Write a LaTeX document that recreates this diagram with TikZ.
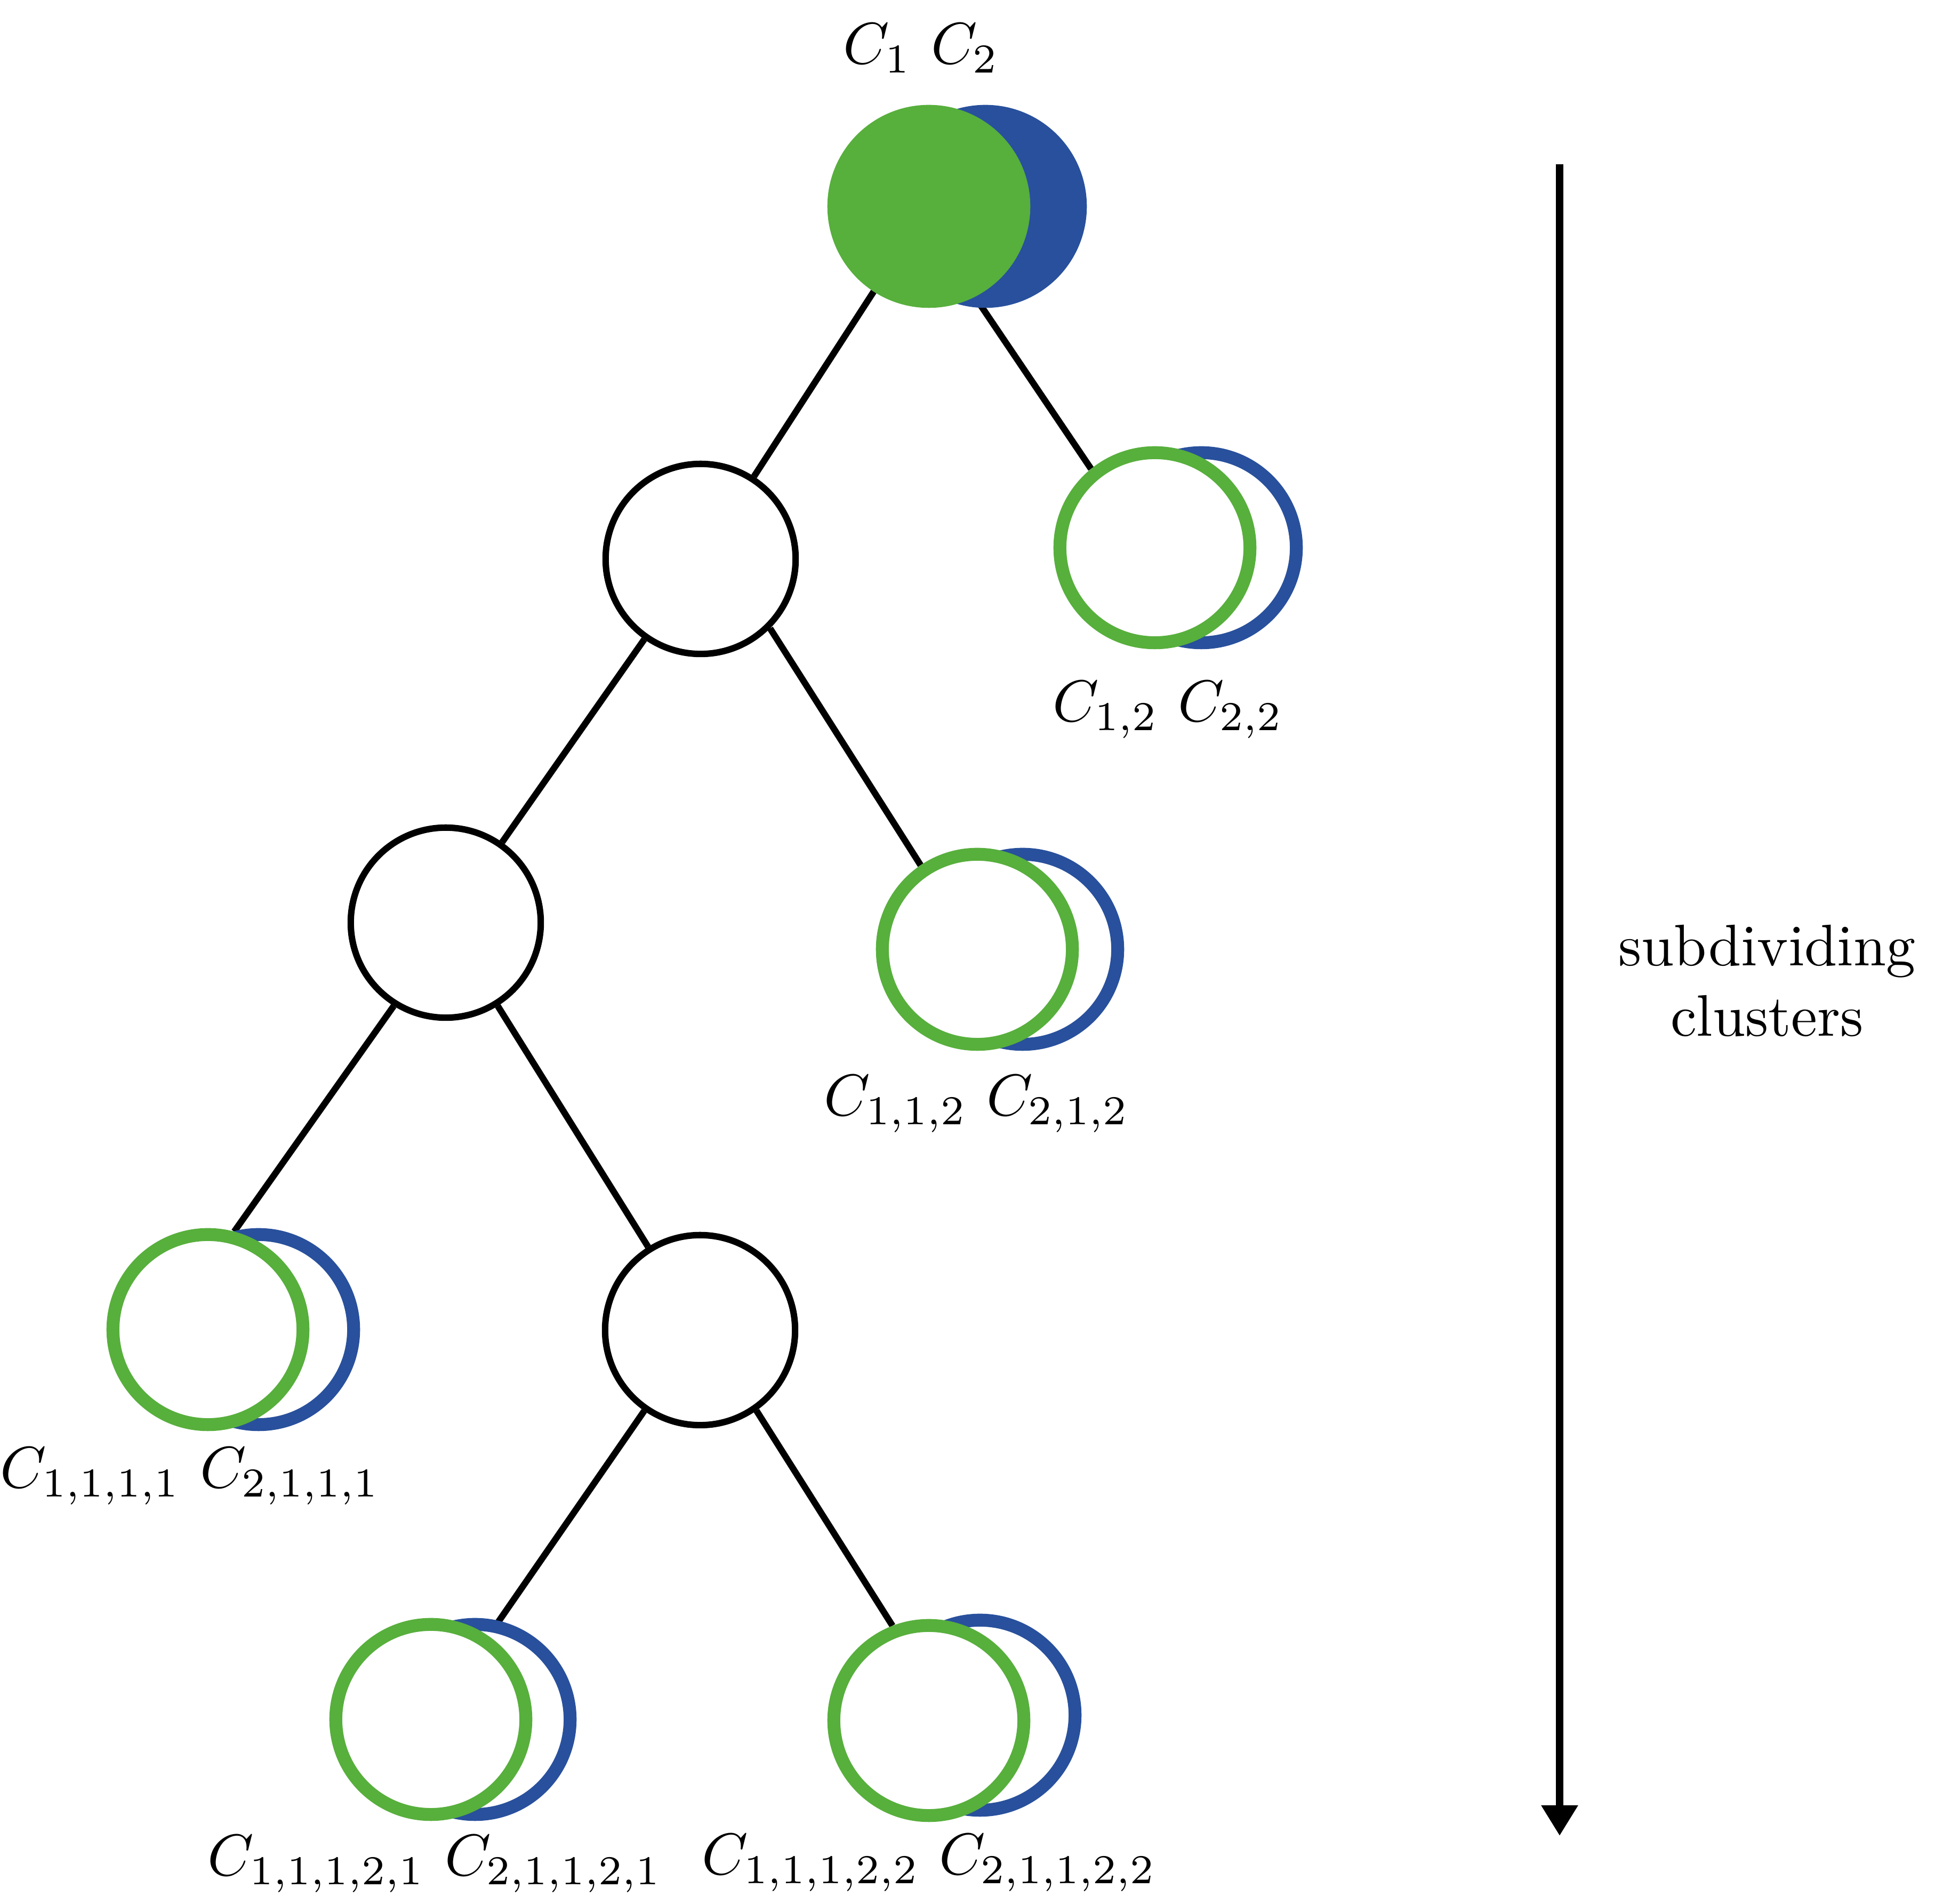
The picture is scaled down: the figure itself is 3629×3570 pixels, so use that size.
\documentclass[tikz,border=0pt]{standalone}
\usetikzlibrary{arrows.meta,backgrounds}
\definecolor{cgreen}{RGB}{87,175,60}
\definecolor{cblue}{RGB}{40,80,156}
\begin{document}
\begin{tikzpicture}[x=0.090909pt,y=-0.090909pt,
  blk/.style={circle,draw=black,line width=1.1pt,fill=white,minimum size=32.4pt,inner sep=0pt},
  gring/.style={circle,draw=cgreen,line width=2.2pt,fill=white,minimum size=32.4pt,inner sep=0pt},
  bring/.style={circle,draw=cblue,line width=2.2pt,fill=white,minimum size=32.4pt,inner sep=0pt},
  gfull/.style={gring,fill=cgreen},
  bfull/.style={bring,fill=cblue},
  conn/.style={line width=1.1pt},
  lbl/.style={anchor=base,inner sep=0pt}]
\useasboundingbox (0,0) rectangle (3629,3570);

% root
\node[bfull] (r2) at (1848,387) {};
\node[gfull] (r1) at (1742,387) {};
\node[lbl] (lr) at (1728,120) {$C_1$ $C_2$};

% level 1
\node[blk] (a) at (1314,1048) {};
\node[bring] (b2) at (2253,1027) {};
\node[gring] (b1) at (2166,1027) {};
\node[lbl] (lb) at (2191,1353) {$C_{1,2}$ $C_{2,2}$};

% level 2
\node[blk] (c) at (836,1730) {};
\node[bring] (d2) at (1918,1780) {};
\node[gring] (d1) at (1833,1780) {};
\node[lbl] (ld) at (1832,2092) {$C_{1,1,2}$ $C_{2,1,2}$};

% level 3
\node[bring] (e2) at (485,2493) {};
\node[gring] (e1) at (390,2493) {};
\node[lbl] (le) at (357,2790) {$C_{1,1,1,1}$ $C_{2,1,1,1}$};
\node[blk] (f) at (1313,2494) {};

% level 4
\node[bring] (g2) at (891,3224) {};
\node[gring] (g1) at (808,3224) {};
\node[lbl] (lg) at (816,3517) {$C_{1,1,1,2,1}$ $C_{2,1,1,2,1}$};
\node[bring] (h2) at (1838,3216) {};
\node[gring] (h1) at (1742,3226) {};
\node[lbl] (lh) at (1743,3515) {$C_{1,1,1,2,2}$ $C_{2,1,1,2,2}$};

% connectors
\begin{scope}[on background layer]
\draw[conn] (r1) -- (a);
\draw[conn] (r1.-63) -- (b1.129);
\draw[conn] (a) -- (c);
\draw[conn] (a.-45) -- (d1.124);
\draw[conn] (c.-122) -- (e1.75);
\draw[conn] (c) -- (f);
\draw[conn] (f) -- (g1);
\draw[conn] (f.-55) -- (h1.111);
\end{scope}

% arrow
\coordinate (atop) at (2925,308);
\coordinate (abot) at (2925,3442);
\draw[line width=1.2pt,-{Triangle[width=6pt,length=5.2pt]}] (atop) -- (abot);
\node[align=center,inner sep=0pt] (sub) at (3314,1839) {subdividing\\clusters};
\end{tikzpicture}
\end{document}
